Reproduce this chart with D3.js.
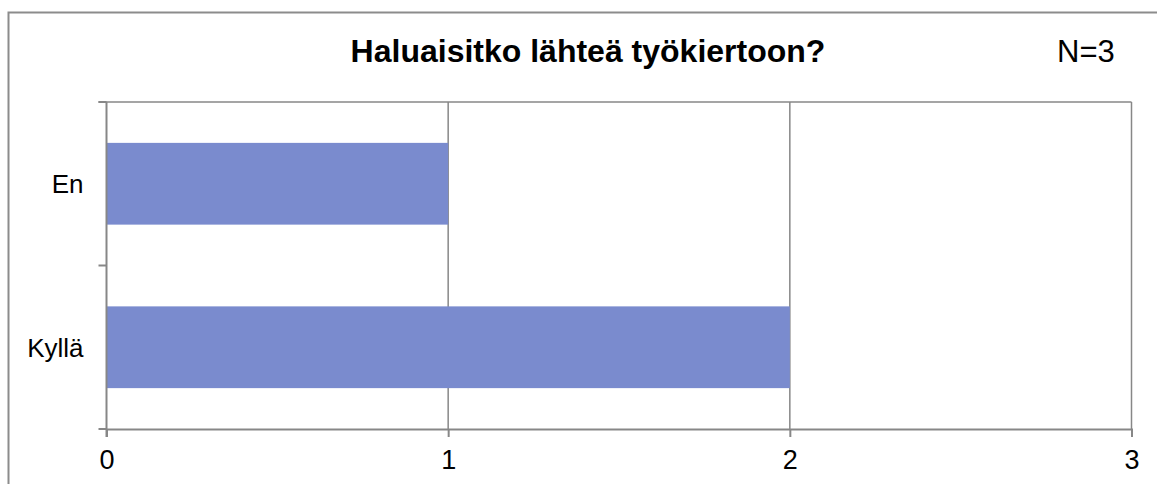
<!DOCTYPE html>
<html>
<head>
<meta charset="utf-8">
<script src="https://cdn.jsdelivr.net/npm/d3@7"></script>
<style>
  body { margin: 0; background: #fff; }
  text { font-family: Arial, "Liberation Sans", sans-serif; fill: #000; }
</style>
</head>
<body>
<div id="chart"></div>
<script>
// data
const categories = ["En", "Kyllä"];
const counts = [1, 2];
const xTicks = [0, 1, 2, 3];
const title = "Haluaisitko lähteä työkiertoon?";
const note = "N=3";

const W = 1157, H = 484;
var margin = {top: 102, right: 25, bottom: 55, left: 106.5};
var width = 1131.5 - margin.left,
    height = 429 - margin.top;

var svg = d3.select("#chart").append("svg")
    .attr("width", W)
    .attr("height", H);

// outer chart border
svg.append("rect")
    .attr("x", 8.5).attr("y", 12.5)
    .attr("width", 1300).attr("height", 600)
    .attr("fill", "none")
    .attr("stroke", "#8c8c8c")
    .attr("stroke-width", 2);

svg.append("text")
    .attr("x", 588).attr("y", 62)
    .attr("text-anchor", "middle")
    .style("font-size", "32px")
    .style("font-weight", "bold")
    .text(title);

svg.append("text")
    .attr("x", 1057).attr("y", 62)
    .style("font-size", "31px")
    .text(note);

var g = svg.append("g")
    .attr("transform", "translate(" + margin.left + "," + margin.top + ")");

var x = d3.scaleLinear().domain([0, 3]).range([0, width]);
var y = d3.scaleBand().domain(categories).range([0, height])
    .paddingInner(0.5).paddingOuter(0.25);

// vertical gridlines
g.selectAll(".grid").data(xTicks.slice(1)).join("line")
    .attr("class", "grid")
    .attr("x1", d => x(d)).attr("x2", d => x(d))
    .attr("y1", 0).attr("y2", height)
    .attr("stroke", "#878787").attr("stroke-width", 1.5);

// top border of plot area
g.append("line")
    .attr("x1", -8).attr("x2", width)
    .attr("y1", 0).attr("y2", 0)
    .attr("stroke", "#878787").attr("stroke-width", 1.5);

// bars
g.selectAll(".bar").data(categories).join("rect")
    .attr("class", "bar")
    .attr("x", x(0))
    .attr("y", d => y(d))
    .attr("width", (d, i) => x(counts[i]) - x(0))
    .attr("height", y.bandwidth())
    .attr("fill", "#7a8bce");

// x axis
var xAxis = g.append("g")
    .attr("transform", "translate(0," + height + ")")
    .call(d3.axisBottom(x).tickValues(xTicks).tickFormat(d3.format("d"))
        .tickSize(8).tickPadding(13));
xAxis.select(".domain").attr("stroke", "#878787").attr("stroke-width", 2);
xAxis.selectAll(".tick line").attr("stroke", "#878787").attr("stroke-width", 2);
xAxis.selectAll("text").style("font-size", "27px").attr("fill", "#000")
    .style("font-family", "Arial, 'Liberation Sans', sans-serif");

// y axis: ticks at category boundaries
var bounds = [0, height / 2, height];
g.append("line")
    .attr("x1", 0).attr("x2", 0).attr("y1", 0).attr("y2", height + 8)
    .attr("stroke", "#878787").attr("stroke-width", 2);
g.selectAll(".ytick").data(bounds).join("line")
    .attr("class", "ytick")
    .attr("x1", -8).attr("x2", 0)
    .attr("y1", d => d).attr("y2", d => d)
    .attr("stroke", "#878787").attr("stroke-width", 2);

g.selectAll(".ylabel").data(categories).join("text")
    .attr("class", "ylabel")
    .attr("x", -23)
    .attr("y", d => y(d) + y.bandwidth() / 2)
    .attr("dy", "0.36em")
    .attr("text-anchor", "end")
    .style("font-size", "26px")
    .text(d => d);
</script>
</body>
</html>
